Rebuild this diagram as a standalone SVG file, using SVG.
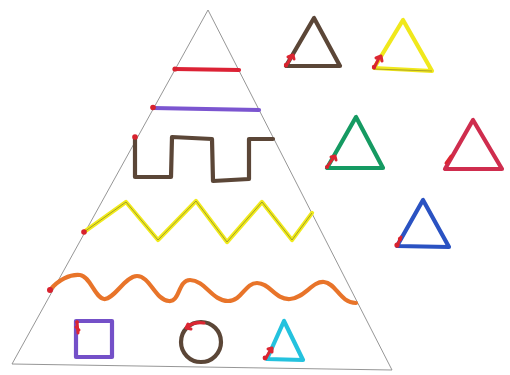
<svg xmlns="http://www.w3.org/2000/svg" width="510" height="375" viewBox="0 0 510 375">
<style>
.m{fill:none;stroke-linecap:round;stroke-linejoin:round;stroke-width:4.2}
.st{fill:none;stroke:#dc2632;stroke-width:3;stroke-linecap:round;stroke-linejoin:round}
.dot{fill:#d8222e}
</style>
<rect width="510" height="375" fill="#ffffff"/>
<g id="pyramid">
<polygon points="208,10 12,364 392,370" fill="none" stroke="#8a8a8a" stroke-width="0.9"/>
</g>
<g id="red-line">
<path class="m" d="M175,69 L239,70" stroke="#dc2235"/>
<circle class="dot" cx="175" cy="69" r="2.6"/>
</g>
<g id="purple-line">
<path class="m" d="M153,108 L259,110" stroke="#7b55d0" stroke-width="3.2"/>
<circle class="dot" cx="153" cy="107.5" r="2.8"/>
</g>
<g id="square-wave">
<path class="m" d="M135,138 L135,177 L171,177 L172,137 L212,139 L213,181 L249,179 L249,139 L273,139" stroke="#5b4637"/>
<circle class="dot" cx="135" cy="137" r="2.8"/>
</g>
<g id="zigzag">
<path class="m" d="M84,232 L126,202 L158,240 L196,201 L227,242 L262,202 L292,240 L312,213" stroke="#f0ea1c" stroke-width="5.5"/>
<path fill="none" d="M84,232 L126,202 L158,240 L196,201 L227,242 L262,202 L292,240 L312,213" stroke="#8f8a2a" stroke-width="0.8" stroke-linejoin="round"/>
<circle class="dot" cx="84" cy="232" r="2.8"/>
</g>
<g id="wave">
<path class="m" d="M50,290 C58,280 70,274 80,275 C90,276 95,298 104,299 C114,300 125,276 137,276 C150,276 155,300 169,301 C180,302 178,280 190,280 C205,280 212,301 228,301 C242,301 245,283 257,283 C270,283 275,300 290,299 C305,298 312,281 324,282 C336,283 340,303 356,303" stroke="#e8742a"/>
<circle class="dot" cx="50" cy="290" r="3"/>
</g>
<g id="purple-square">
<rect class="m" x="76" y="321" width="36" height="36" stroke="#7450c8" stroke-width="3.4"/>
<path class="st" d="M77,322 L78,333 M76,327 L79,330"/>
<circle class="dot" cx="77" cy="322" r="1.8"/>
</g>
<g id="brown-circle">
<circle class="m" cx="201" cy="342" r="20" stroke="#5b4637"/>
<path class="st" d="M187,327 C192,323 198,322 204,323 M188,324 L186,328 L191,329"/>
</g>
<g id="cyan-triangle">
<polygon class="m" points="284,321 267,359 303,360" stroke="#24c2de"/>
<path class="st" d="M266,358 L271,349 M268,349 L272,348 L272,352"/>
<circle class="dot" cx="265" cy="358" r="2.4"/>
</g>
<g id="brown-triangle">
<polygon class="m" points="314,18 286,66 340,66" stroke="#5b4637"/>
<path class="st" d="M286,66 L292,56 M288,57 L293,55 L294,59"/>
<circle class="dot" cx="286" cy="65" r="2.2"/>
</g>
<g id="yellow-triangle">
<polygon class="m" points="403,20 374,68 432,71" stroke="#f0e81c"/>
<path fill="none" d="M374,69 L432,71" stroke="#9a8e2a" stroke-width="0.8"/>
<path class="st" d="M374,68 L379,58 M376,58 L381,56 L382,61"/>
<circle class="dot" cx="374" cy="67" r="2.2"/>
</g>
<g id="green-triangle">
<polygon class="m" points="356,117 327,168 383,168" stroke="#159a62"/>
<path class="st" d="M327,167 L334,157 M331,157 L335,156 L336,160"/>
<circle class="dot" cx="327" cy="167" r="2"/>
</g>
<g id="crimson-triangle">
<polygon class="m" points="473,120 445,169 502,169" stroke="#cf2d4e" stroke-width="6"/>
<path class="st" d="M446,163 L451,156" stroke="#e02440"/>
</g>
<g id="blue-triangle">
<polygon class="m" points="423,200 397,246 449,247" stroke="#2a52c2"/>
<path class="st" d="M397,246 L401,237"/>
<circle class="dot" cx="397" cy="245" r="2.6"/>
<circle class="dot" cx="400" cy="239" r="2.2"/>
</g>
</svg>
